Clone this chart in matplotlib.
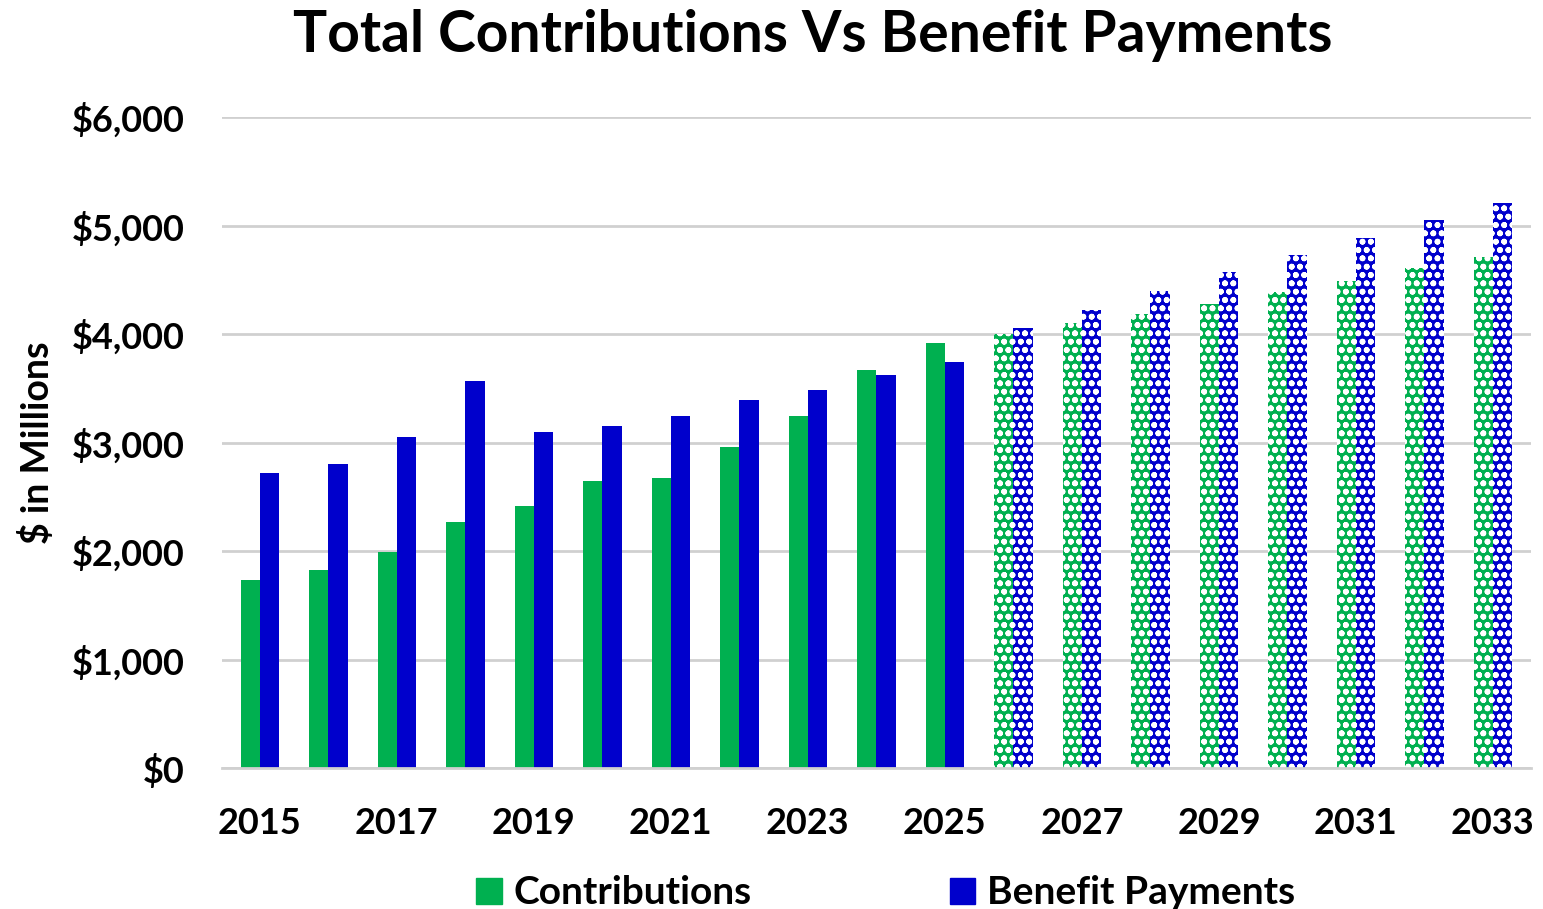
import matplotlib.pyplot as plt
import numpy as np
from matplotlib.patches import Patch
from matplotlib.ticker import FuncFormatter

plt.rcParams['font.family'] = ['Lato', 'DejaVu Sans']
plt.rcParams['font.weight'] = 'bold'
plt.rcParams['hatch.linewidth'] = 1.8
plt.rcParams['hatch.color'] = 'white'

# years, actual through 2025, projected after
years = list(range(2015, 2034))
contributions = [1730, 1830, 1990, 2270, 2420, 2650, 2670, 2960, 3250, 3670, 3920,
                 4000, 4100, 4190, 4280, 4390, 4490, 4610, 4710]
benefits = [2720, 2800, 3050, 3570, 3100, 3150, 3250, 3390, 3490, 3620, 3740,
            4060, 4220, 4400, 4570, 4730, 4890, 5050, 5210]
last_actual = 2025

green = '#00B050'
blue = '#0000CC'

fig = plt.figure(figsize=(15.43, 9.09), dpi=100)
ax = fig.add_axes([0.144, 0.155, 0.848, 0.716])

x = np.arange(len(years))
w = 0.28
for i, yr in enumerate(years):
    hatch = 'oo' if yr > last_actual else None
    ax.bar(x[i] - w / 2, contributions[i], w, color=green, hatch=hatch, edgecolor='white' if hatch else green, linewidth=0)
    ax.bar(x[i] + w / 2, benefits[i], w, color=blue, hatch=hatch, edgecolor='white' if hatch else blue, linewidth=0)

ax.set_ylim(0, 6000)
ax.set_xlim(-0.55, len(years) - 0.45)
ax.set_yticks(range(0, 6001, 1000))
ax.yaxis.set_major_formatter(FuncFormatter(lambda v, p: '${:,.0f}'.format(v)))
ax.set_xticks(x[::2])
ax.set_xticklabels([str(y) for y in years[::2]])
ax.tick_params(axis='both', length=0, labelsize=26)
ax.tick_params(axis='x', pad=28)
ax.tick_params(axis='y', pad=27)
ax.grid(axis='y', color='#D0D0D0', linewidth=2)
ax.set_axisbelow(True)
for s in ['top', 'right', 'left']:
    ax.spines[s].set_visible(False)
ax.spines['bottom'].set_color('#D0D0D0')
ax.spines['bottom'].set_linewidth(2)

ax.set_ylabel('$ in Millions', fontsize=27, fontweight='bold', labelpad=12)
fig.suptitle('Total Contributions Vs Benefit Payments', fontsize=41, fontweight='bold', x=0.527, y=0.99)

handles = [Patch(color=green), Patch(color=blue)]
fig.legend(handles, ['Contributions', 'Benefit Payments'], loc='lower center',
           bbox_to_anchor=(0.574, -0.04), ncol=2, frameon=False, fontsize=28,
           handlelength=0.65, handleheight=0.65, handletextpad=0.3, columnspacing=5.1)

plt.savefig('out.png', dpi=100)
